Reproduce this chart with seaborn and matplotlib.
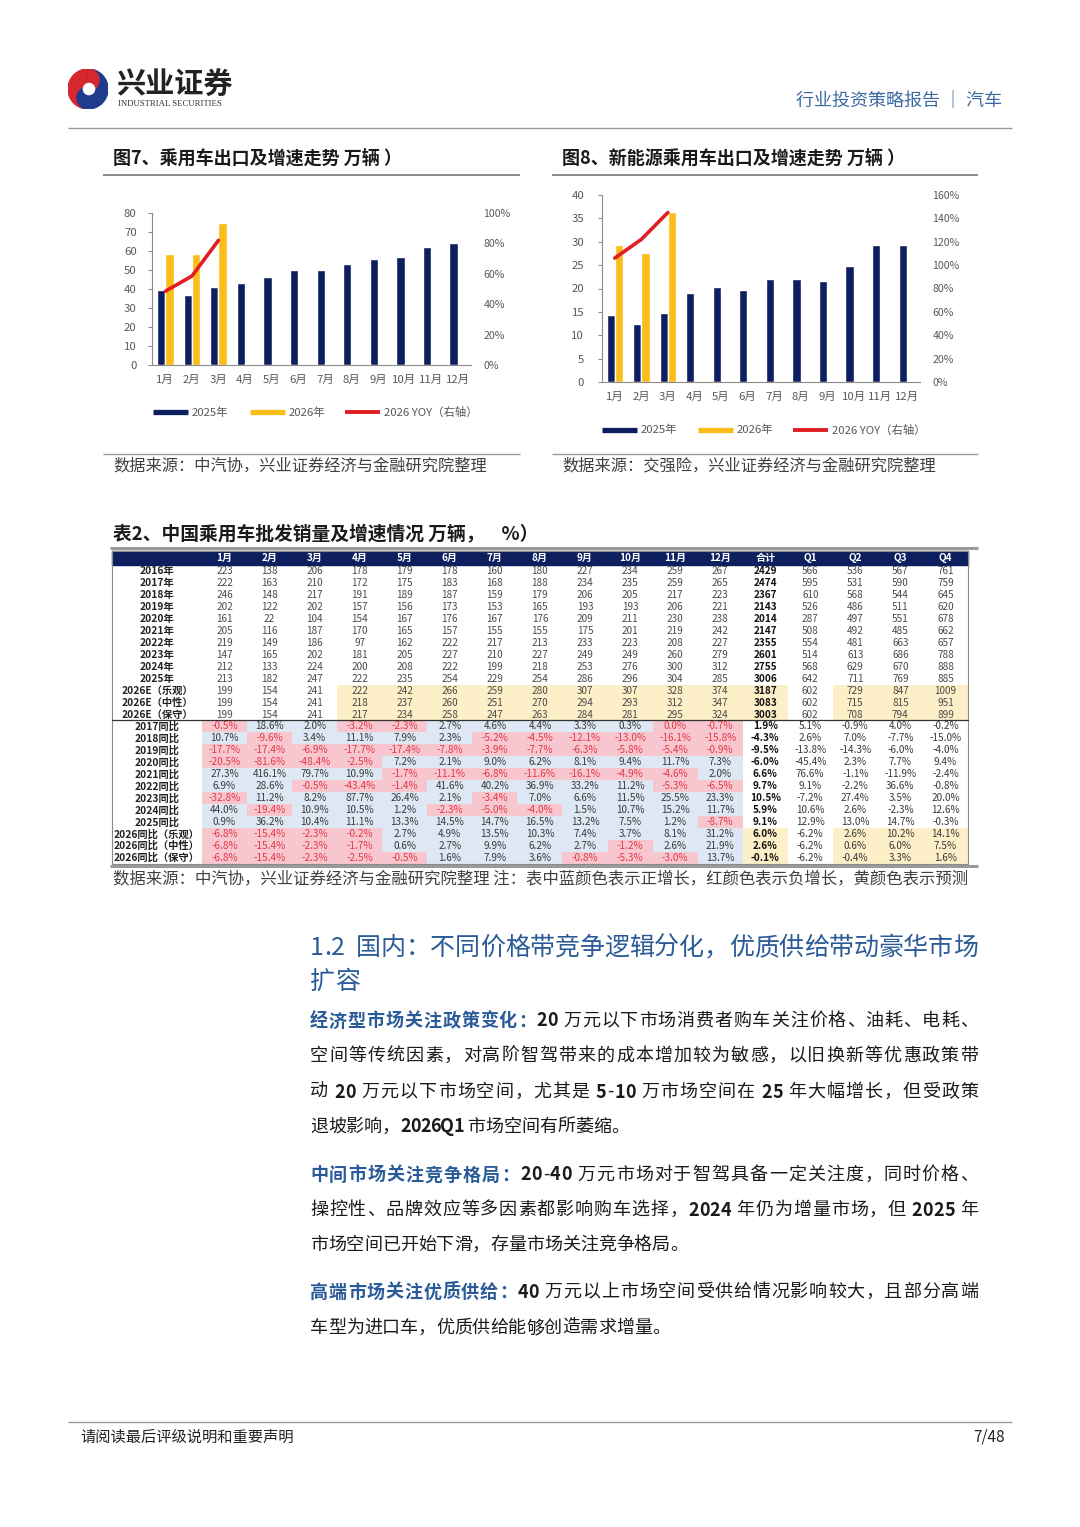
import numpy as np
import pandas as pd
import matplotlib
matplotlib.use('Agg')
import matplotlib.pyplot as plt
import seaborn as sns
from matplotlib.lines import Line2D
from matplotlib.patches import Rectangle, Wedge, Circle
from matplotlib.colors import ListedColormap
from matplotlib.ticker import FuncFormatter

sns.set_style('white')
CJK = ['Noto Sans CJK SC', 'DejaVu Sans']
plt.rcParams['font.family'] = CJK
plt.rcParams['axes.unicode_minus'] = False

# ---------------- data ----------------
months = [f'{i}月' for i in range(1, 13)]

# 图7 乘用车出口（万辆）
exp_2025 = [39.5, 37.0, 41.0, 43.0, 46.5, 50.0, 49.8, 53.0, 55.8, 57.0, 62.0, 64.0]
exp_2026 = [58.5, 58.5, 74.5]
exp_yoy = [48.5, 58.5, 82.0]

# 图8 新能源乘用车出口（万辆）
nev_2025 = [14.3, 12.4, 14.8, 19.0, 20.4, 19.6, 22.0, 22.0, 21.6, 24.9, 29.3, 29.3]
nev_2026 = [29.4, 27.5, 36.3]
nev_yoy = [106.0, 122.0, 145.0]

# 表2 中国乘用车批发销量
tbl_cols = months + ['合计', 'Q1', 'Q2', 'Q3', 'Q4']
vol_labels = ['2016年', '2017年', '2018年', '2019年', '2020年', '2021年', '2022年',
              '2023年', '2024年', '2025年', '2026E（乐观）', '2026E（中性）', '2026E（保守）']
vol_rows = [
    [223, 138, 206, 178, 179, 178, 160, 180, 227, 234, 259, 267, 2429, 566, 536, 567, 761],
    [222, 163, 210, 172, 175, 183, 168, 188, 234, 235, 259, 265, 2474, 595, 531, 590, 759],
    [246, 148, 217, 191, 189, 187, 159, 179, 206, 205, 217, 223, 2367, 610, 568, 544, 645],
    [202, 122, 202, 157, 156, 173, 153, 165, 193, 193, 206, 221, 2143, 526, 486, 511, 620],
    [161, 22, 104, 154, 167, 176, 167, 176, 209, 211, 230, 238, 2014, 287, 497, 551, 678],
    [205, 116, 187, 170, 165, 157, 155, 155, 175, 201, 219, 242, 2147, 508, 492, 485, 662],
    [219, 149, 186, 97, 162, 222, 217, 213, 233, 223, 208, 227, 2355, 554, 481, 663, 657],
    [147, 165, 202, 181, 205, 227, 210, 227, 249, 249, 260, 279, 2601, 514, 613, 686, 788],
    [212, 133, 224, 200, 208, 222, 199, 218, 253, 276, 300, 312, 2755, 568, 629, 670, 888],
    [213, 182, 247, 222, 235, 254, 229, 254, 286, 296, 304, 285, 3006, 642, 711, 769, 885],
    [199, 154, 241, 222, 242, 266, 259, 280, 307, 307, 328, 374, 3187, 602, 729, 847, 1009],
    [199, 154, 241, 218, 237, 260, 251, 270, 294, 293, 312, 347, 3083, 602, 715, 815, 951],
    [199, 154, 241, 217, 234, 258, 247, 263, 284, 281, 295, 324, 3003, 602, 708, 794, 899],
]
yoy_labels = ['2017同比', '2018同比', '2019同比', '2020同比', '2021同比', '2022同比',
              '2023同比', '2024同比', '2025同比', '2026同比（乐观）', '2026同比（中性）',
              '2026同比（保守）']
yoy_rows = [
    [-0.5, 18.6, 2.0, -3.2, -2.3, 2.7, 4.6, 4.4, 3.3, 0.3, 0.0, -0.7, 1.9, 5.1, -0.9, 4.0, -0.2],
    [10.7, -9.6, 3.4, 11.1, 7.9, 2.3, -5.2, -4.5, -12.1, -13.0, -16.1, -15.8, -4.3, 2.6, 7.0, -7.7, -15.0],
    [-17.7, -17.4, -6.9, -17.7, -17.4, -7.8, -3.9, -7.7, -6.3, -5.8, -5.4, -0.9, -9.5, -13.8, -14.3, -6.0, -4.0],
    [-20.5, -81.6, -48.4, -2.5, 7.2, 2.1, 9.0, 6.2, 8.1, 9.4, 11.7, 7.3, -6.0, -45.4, 2.3, 7.7, 9.4],
    [27.3, 416.1, 79.7, 10.9, -1.7, -11.1, -6.8, -11.6, -16.1, -4.9, -4.6, 2.0, 6.6, 76.6, -1.1, -11.9, -2.4],
    [6.9, 28.6, -0.5, -43.4, -1.4, 41.6, 40.2, 36.9, 33.2, 11.2, -5.3, -6.5, 9.7, 9.1, -2.2, 36.6, -0.8],
    [-32.8, 11.2, 8.2, 87.7, 26.4, 2.1, -3.4, 7.0, 6.6, 11.5, 25.5, 23.3, 10.5, -7.2, 27.4, 3.5, 20.0],
    [44.0, -19.4, 10.9, 10.5, 1.2, -2.3, -5.0, -4.0, 1.5, 10.7, 15.2, 11.7, 5.9, 10.6, 2.6, -2.3, 12.6],
    [0.9, 36.2, 10.4, 11.1, 13.3, 14.5, 14.7, 16.5, 13.2, 7.5, 1.2, -8.7, 9.1, 12.9, 13.0, 14.7, -0.3],
    [-6.8, -15.4, -2.3, -0.2, 2.7, 4.9, 13.5, 10.3, 7.4, 3.7, 8.1, 31.2, 6.0, -6.2, 2.6, 10.2, 14.1],
    [-6.8, -15.4, -2.3, -1.7, 0.6, 2.7, 9.9, 6.2, 2.7, -1.2, 2.6, 21.9, 2.6, -6.2, 0.6, 6.0, 7.5],
    [-6.8, -15.4, -2.3, -2.5, -0.5, 1.6, 7.9, 3.6, -0.8, -5.3, -3.0, 13.7, -0.1, -6.2, -0.4, 3.3, 1.6],
]

# ---------------- style ----------------
NAVY = '#0d1f5e'
GOLD = '#fbbd19'
RED = '#e01e24'
BLUE = '#2a5b98'
INK = '#1a1a1a'
GRAY = '#8c8c8c'
TICK = '#595959'

W, H = 1080, 1527
fig = plt.figure(figsize=(W / 100, H / 100), dpi=100)
renderer = fig.canvas.get_renderer()


def fx(x):
    return x / W


def fy(y):
    return 1 - y / H


def ftext(x, y, s, **kw):
    kw.setdefault('va', 'center')
    return fig.text(fx(x), fy(y), s, **kw)


def hline(x0, x1, y, color='#999999', lw=1.0):
    fig.add_artist(Line2D([fx(x0), fx(x1)], [fy(y), fy(y)], transform=fig.transFigure,
                          color=color, lw=lw, solid_capstyle='butt'))


def add_ax(x0, y0, x1, y1):
    return fig.add_axes([fx(x0), fy(y1), (x1 - x0) / W, (y1 - y0) / H])


_wcache = {}


def text_w(s, size, weight='normal'):
    key = (s, size, weight)
    if key not in _wcache:
        t = fig.text(0, 0, s, fontsize=size, weight=weight)
        _wcache[key] = t.get_window_extent(renderer).width
        t.remove()
    return _wcache[key]


def draw_line(x0, y, segs, size, right=None, bold_ascii=False):
    # draws a text line char by char so it can be justified to the right margin
    chars = [(c, col, wt) for s, col, wt in segs for c in s]
    full = ''.join(c for c, _, _ in chars)
    gap = 0.0
    if right is not None:
        gap = (right - x0 - text_w(full, size)) / (len(full) - 1)
    for i, (c, col, wt) in enumerate(chars):
        if c == ' ':
            continue
        x = x0 + text_w(full[:i + 1], size) - text_w(c, size) + i * gap
        if bold_ascii and c.isascii() and c.isalnum():
            wt = 'bold'
        ftext(x, y, c, fontsize=size, color=col, weight=wt, ha='left')


# ---------------- page header ----------------
lax = add_ax(68, 69, 108, 109)
lax.set_xlim(-1, 1)
lax.set_ylim(-1, 1)
lax.set_aspect('equal')
lax.axis('off')
lax.add_patch(Wedge((0, 0), 1, 90, 270, color='#d7262e'))
lax.add_patch(Wedge((0, 0), 1, -90, 90, color='#1f3c8c'))
lax.add_patch(Wedge((0, 0.45), 0.55, 270, 90, color='#d7262e'))
lax.add_patch(Wedge((0, -0.45), 0.55, 90, 270, color='#1f3c8c'))
lax.add_patch(Circle((0.05, 0), 0.28, color='white'))

ftext(116, 85, '兴业证券', fontsize=21, weight='bold', color='#222222', ha='left')
ftext(118, 104, 'INDUSTRIAL SECURITIES', fontsize=6.3, family='Liberation Serif',
      color='#333333', ha='left')
ftext(1002, 101, '行业投资策略报告 ｜ 汽车', fontsize=13, color='#3c6aa0', ha='right')
hline(68, 1012, 128, color='#9a9a9a', lw=1.0)


# ---------------- charts ----------------
def bar_chart(box, v25, v26, yoy, ymax, ystep, rmax, lpad, title, tx, line_x, title_y,
              leg_y, leg_x, src, src_y):
    x0, y0, x1, y1 = box
    ax = add_ax(x0, y0, x1, y1)
    df = pd.DataFrame({'月份': months + months[:len(v26)],
                       '年份': ['2025年'] * 12 + ['2026年'] * len(v26),
                       '销量': v25 + v26})
    sns.barplot(data=df, x='月份', y='销量', hue='年份', order=months,
                hue_order=['2025年', '2026年'], palette=[NAVY, GOLD], width=0.62,
                saturation=1, errorbar=None, legend=False, ax=ax)
    ax2 = ax.twinx()
    sns.lineplot(x=list(range(len(yoy))), y=yoy, color=RED, lw=2.6, ax=ax2)
    ax.set_xlim(-0.5, 11.5)
    ax.set_ylim(0, ymax)
    ax2.set_ylim(0, rmax)
    for a in (ax, ax2):
        a.set_xlabel('')
        a.set_ylabel('')
        a.set_facecolor('none')
        for sp in a.spines.values():
            sp.set_visible(False)
    for side in ('left', 'bottom'):
        ax.spines[side].set_visible(True)
        ax.spines[side].set_color(GRAY)
        ax.spines[side].set_linewidth(0.8)
    ax.set_yticks(np.arange(0, ymax + 0.1, ystep))
    ax.set_xticks(range(12))
    ax.set_xticklabels(months)
    ax.tick_params(axis='y', left=True, length=3, width=0.8, color=GRAY, direction='out',
                   labelsize=8.2, labelcolor=TICK, pad=lpad)
    ax.tick_params(axis='x', length=0, labelsize=8.2, labelcolor=TICK, pad=7)
    ax2.set_yticks(np.arange(0, rmax + 0.1, 20))
    ax2.yaxis.set_major_formatter(FuncFormatter(lambda v, p: f'{v:.0f}%'))
    ax2.tick_params(axis='y', right=True, length=0, labelsize=7.6, labelcolor=TICK, pad=9)

    ftext(tx, title_y, title, fontsize=13, weight='bold', color=INK, ha='left')
    hline(line_x[0], line_x[1], title_y + 16.5, color='#8a8a8a', lw=1.4)

    items = [(NAVY, '2025年', 3.8), (GOLD, '2026年', 3.8), (RED, '2026 YOY（右轴）', 2.8)]
    for (col, lab, lw), lx in zip(items, leg_x):
        hline(lx, lx + 35, leg_y, color=col, lw=lw)
        ftext(lx + 39, leg_y, lab, fontsize=8.2, color=TICK, ha='left')

    hline(line_x[0], line_x[1], src_y - 12.5, color='#9a9a9a', lw=1.0)
    ftext(tx, src_y, src, fontsize=11.7, color='#404040', ha='left')


bar_chart((152, 213, 471, 365), exp_2025, exp_2026, exp_yoy, 80, 10, 100, 8,
          '图7、乘用车出口及增速走势 万辆 ）', 113, (103, 520), 158,
          412.5, (153, 250, 345), '数据来源：中汽协，兴业证券经济与金融研究院整理', 466)
bar_chart((601.5, 195, 920, 382), nev_2025, nev_2026, nev_yoy, 40, 5, 160, 9.5,
          '图8、新能源乘用车出口及增速走势 万辆 ）', 562, (552, 978), 158,
          430, (602, 698, 793), '数据来源：交强险，兴业证券经济与金融研究院整理', 466)

# ---------------- table ----------------
ftext(113, 535, '表2、中国乘用车批发销量及增速情况 万辆，    %）', fontsize=13.5,
      weight='bold', color=INK, ha='left')
hline(110, 978, 548, color='#9a9a9a', lw=2.2)

n_vol = len(vol_rows)
n_rows = n_vol + len(yoy_rows)
n_cols = len(tbl_cols)
codes = np.zeros((n_rows, n_cols), dtype=int)
annot = np.empty((n_rows, n_cols), dtype=object)
for i, row in enumerate(vol_rows):
    annot[i] = [str(v) for v in row]
    if vol_labels[i].startswith('2026E'):
        codes[i, 3:13] = 1
        codes[i, 14:17] = 1
for j, row in enumerate(yoy_rows):
    i = n_vol + j
    annot[i] = [f'{v:.1f}%' for v in row]
    for k in range(12):
        codes[i, k] = 3 if row[k] <= 0 else 2
    if yoy_labels[j].startswith('2026'):
        codes[i, 12] = 1
        codes[i, 14:17] = 1

cell_cmap = ListedColormap(['#ffffff', '#fdf0c9', '#dde8f4', '#f8c6ce'])
ax_t = add_ax(202, 565, 968, 864)
sns.heatmap(codes, ax=ax_t, cmap=cell_cmap, vmin=-0.5, vmax=3.5, cbar=False,
            annot=annot, fmt='', xticklabels=False, yticklabels=False,
            annot_kws=dict(fontsize=7.2, color='#3a3a3a'))
for idx, t in enumerate(ax_t.texts):
    r, c = divmod(idx, n_cols)
    if codes[r, c] == 3:
        t.set_color('#e23a48')
    if c == 12:
        t.set_weight('bold')
        t.set_color('#111111')
    if r < n_vol and c != 12:
        t.set_color('#4a4a4a')

hdr_h = 14 / 11.96
ax_t.add_patch(Rectangle((-2, -hdr_h), n_cols + 2, hdr_h, color=NAVY, clip_on=False))
for k, lab in enumerate(tbl_cols):
    ax_t.text(k + 0.5, -hdr_h / 2, lab, ha='center', va='center', color='white',
              fontsize=7.2, weight='bold', clip_on=False)
for i, lab in enumerate(vol_labels + yoy_labels):
    ax_t.text(-1.0, i + 0.5, lab, ha='center', va='center', color='#222222',
              fontsize=7.4, weight='bold', clip_on=False)
ax_t.add_patch(Rectangle((-2, -hdr_h), n_cols + 2, n_rows + hdr_h, fill=False,
                         ec='#8a8a8a', lw=0.8, clip_on=False))
ax_t.plot([-2, n_cols], [n_vol, n_vol], color='#333333', lw=0.9, clip_on=False)
hline(110, 978, 866, color='#9a9a9a', lw=2.2)

ftext(113, 879, '数据来源：中汽协，兴业证券经济与金融研究院整理 注：表中蓝颜色表示正增长，'
      '红颜色表示负增长，黄颜色表示预测', fontsize=11.8, color='#404040', ha='left')

# ---------------- section text ----------------
draw_line(310, 948, [('1.2  国内：不同价格带竞争逻辑分化，优质供给带动豪华市场', BLUE, 'normal')],
          18, right=978)
draw_line(310, 982, [('扩容', BLUE, 'normal')], 18)

body = [
    (1021, [('经济型市场关注政策变化：', BLUE, 'bold'),
            ('20 万元以下市场消费者购车关注价格、油耗、电耗、', INK, 'normal')], True),
    (1056, [('空间等传统因素，对高阶智驾带来的成本增加较为敏感，以旧换新等优惠政策带', INK, 'normal')], True),
    (1092, [('动 20 万元以下市场空间，尤其是 5-10 万市场空间在 25 年大幅增长，但受政策', INK, 'normal')], True),
    (1127, [('退坡影响，2026Q1 市场空间有所萎缩。', INK, 'normal')], False),
    (1175, [('中间市场关注竞争格局：', BLUE, 'bold'),
            ('20-40 万元市场对于智驾具备一定关注度，同时价格、', INK, 'normal')], True),
    (1210, [('操控性、品牌效应等多因素都影响购车选择，2024 年仍为增量市场，但 2025 年', INK, 'normal')], True),
    (1245, [('市场空间已开始下滑，存量市场关注竞争格局。', INK, 'normal')], False),
    (1292, [('高端市场关注优质供给：', BLUE, 'bold'),
            ('40 万元以上市场空间受供给情况影响较大，且部分高端', INK, 'normal')], True),
    (1328, [('车型为进口车，优质供给能够创造需求增量。', INK, 'normal')], False),
]
for y, segs, just in body:
    draw_line(310, y, segs, 13, right=978 if just else None, bold_ascii=True)

# ---------------- footer ----------------
hline(68, 1012, 1422, color='#9a9a9a', lw=1.0)
ftext(80, 1437, '请阅读最后评级说明和重要声明', fontsize=11, color='#222222', ha='left')
ftext(1005, 1437, '7/48', fontsize=11, color='#222222', ha='right')

fig.savefig('out.png', dpi=100, facecolor='white')
